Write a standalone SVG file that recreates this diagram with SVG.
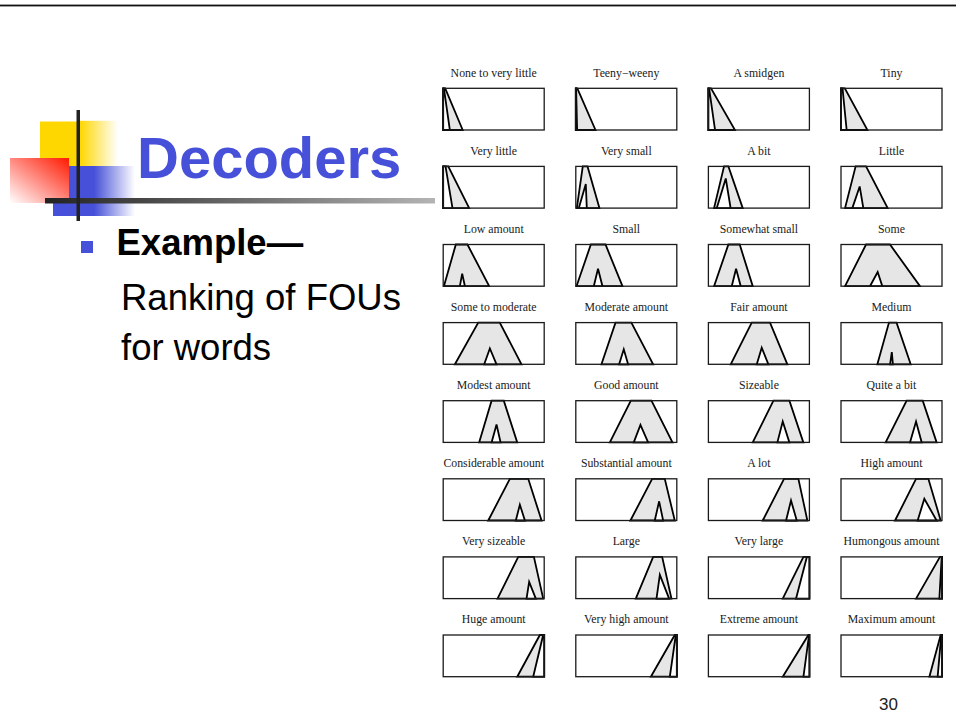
<svg xmlns="http://www.w3.org/2000/svg" width="956" height="725" viewBox="0 0 956 725">
  <style>
    .lbl { font-family: "Liberation Serif", "Times New Roman", serif; font-size: 11.8px; fill: #1a1a1a; text-anchor: middle; }
    .box { fill: none; stroke: #1a1a1a; stroke-width: 1.3; }
    .umf { fill: #e6e6e6; stroke: #000; stroke-width: 1.8; vector-effect: non-scaling-stroke; stroke-linejoin: miter; }
    .lmf { fill: #fff; stroke: #000; stroke-width: 1.8; vector-effect: non-scaling-stroke; stroke-linejoin: miter; }
    .body { font-family: "Liberation Sans", Arial, sans-serif; font-size: 36.5px; fill: #000; }
  </style>
  <defs>
    <linearGradient id="gYellow" x1="0" y1="0" x2="1" y2="0">
      <stop offset="0" stop-color="#FFD700"/>
      <stop offset="1" stop-color="#FFD700" stop-opacity="0"/>
    </linearGradient>
    <linearGradient id="gBlue" x1="0" y1="0" x2="1" y2="0">
      <stop offset="0" stop-color="#4650D8"/>
      <stop offset="0.5" stop-color="#4650D8"/>
      <stop offset="1" stop-color="#4650D8" stop-opacity="0"/>
    </linearGradient>
    <linearGradient id="gRed" x1="1" y1="0" x2="0" y2="1">
      <stop offset="0" stop-color="#FF1A00"/>
      <stop offset="0.5" stop-color="#FF8A80"/>
      <stop offset="1" stop-color="#FFFFFF"/>
    </linearGradient>
    <linearGradient id="gRule" x1="0" y1="0" x2="1" y2="0">
      <stop offset="0" stop-color="#222"/>
      <stop offset="1" stop-color="#b4b4b4"/>
    </linearGradient>
  </defs>

  <rect width="956" height="725" fill="#fff"/>

  <!-- slide header rule -->
  <rect x="0" y="4.6" width="956" height="1.8" fill="#111"/>

  <!-- title ornament -->
  <g id="ornament">
    <rect x="40" y="121.5" width="40" height="44.5" fill="#FFD700"/>
    <rect x="80" y="120.8" width="38" height="45.2" fill="url(#gYellow)"/>
    <rect x="53" y="166" width="82" height="50" fill="url(#gBlue)"/>
    <rect x="10" y="158" width="59" height="45" fill="url(#gRed)"/>
    <rect x="45" y="198" width="390" height="5.5" fill="url(#gRule)"/>
    <rect x="76.5" y="110" width="3.5" height="111" fill="#222"/>
  </g>

  <text id="title" x="137" y="178" font-family="'Liberation Sans', Arial, sans-serif" font-weight="bold" font-size="58" fill="#4650D8">Decoders</text>

  <g id="bullet">
    <rect x="81" y="241" width="12" height="12" fill="#4650D8"/>
    <text class="body" x="116.5" y="254.5" font-weight="bold">Example—</text>
    <text class="body" x="121" y="309.5">Ranking of FOUs</text>
    <text class="body" x="121" y="360">for words</text>
  </g>

  <text id="page" x="879" y="710" font-family="'Liberation Sans', Arial, sans-serif" font-size="17" fill="#222">30</text>

  <!-- FOU codebook: each cell is 101 x 41.7; inner group maps x in [0,10], membership in [0,1] -->
  <g id="row1">
    <g id="w01" transform="translate(443.2,88.3)">
      <text class="lbl" x="50.5" y="-11.6">None to very little</text>
      <g transform="matrix(10.1 0 0 -41.7 0 41.7)">
        <polygon class="umf" points="0,0 0,1 0.2,1 1.93,0"/>
        <polygon class="lmf" points="0,0 0,1 0.07,1 0.66,0"/>
      </g>
      <rect class="box" width="101" height="41.7"/>
    </g>
    <g id="w02" transform="translate(575.8,88.3)">
      <text class="lbl" x="50.5" y="-11.6">Teeny−weeny</text>
      <g transform="matrix(10.1 0 0 -41.7 0 41.7)">
        <polygon class="umf" points="0,0 0,1 0.15,1 1.95,0"/>
        <polygon class="lmf" points="0,0 0,1 0.03,1 0.13,0"/>
      </g>
      <rect class="box" width="101" height="41.7"/>
    </g>
    <g id="w03" transform="translate(708.4,88.3)">
      <text class="lbl" x="50.5" y="-11.6">A smidgen</text>
      <g transform="matrix(10.1 0 0 -41.7 0 41.7)">
        <polygon class="umf" points="0,0 0,1 0.26,1 2.63,0"/>
        <polygon class="lmf" points="0,0 0,1 0.07,1 0.66,0"/>
      </g>
      <rect class="box" width="101" height="41.7"/>
    </g>
    <g id="w04" transform="translate(841,88.3)">
      <text class="lbl" x="50.5" y="-11.6">Tiny</text>
      <g transform="matrix(10.1 0 0 -41.7 0 41.7)">
        <polygon class="umf" points="0,0 0,1 0.38,1 2.62,0"/>
        <polygon class="lmf" points="0,0 0,1 0.15,1 0.56,0"/>
      </g>
      <rect class="box" width="101" height="41.7"/>
    </g>
  </g>

  <g id="row2">
    <g id="w05" transform="translate(443.2,166.4)">
      <text class="lbl" x="50.5" y="-11.6">Very little</text>
      <g transform="matrix(10.1 0 0 -41.7 0 41.7)">
        <polygon class="umf" points="0,0 0,1 0.5,1 2.57,0"/>
        <polygon class="lmf" points="0,0 0,1 0.23,1 0.92,0"/>
      </g>
      <rect class="box" width="101" height="41.7"/>
    </g>
    <g id="w06" transform="translate(575.8,166.4)">
      <text class="lbl" x="50.5" y="-11.6">Very small</text>
      <g transform="matrix(10.1 0 0 -41.7 0 41.7)">
        <polygon class="umf" points="0.1,0 0.69,1 1.16,1 2.34,0"/>
        <polygon class="lmf" points="0.3,0 0.99,0.58 1.09,0"/>
      </g>
      <rect class="box" width="101" height="41.7"/>
    </g>
    <g id="w07" transform="translate(708.4,166.4)">
      <text class="lbl" x="50.5" y="-11.6">A bit</text>
      <g transform="matrix(10.1 0 0 -41.7 0 41.7)">
        <polygon class="umf" points="0.56,0 1.55,1 1.98,1 3.4,0"/>
        <polygon class="lmf" points="0.83,0 1.72,0.71 2.2,0"/>
      </g>
      <rect class="box" width="101" height="41.7"/>
    </g>
    <g id="w08" transform="translate(841,166.4)">
      <text class="lbl" x="50.5" y="-11.6">Little</text>
      <g transform="matrix(10.1 0 0 -41.7 0 41.7)">
        <polygon class="umf" points="0.4,0 1.45,1 2.48,1 4.62,0"/>
        <polygon class="lmf" points="1.12,0 1.85,0.52 2.21,0"/>
      </g>
      <rect class="box" width="101" height="41.7"/>
    </g>
  </g>

  <g id="row3">
    <g id="w09" transform="translate(443.2,244.5)">
      <text class="lbl" x="50.5" y="-11.6">Low amount</text>
      <g transform="matrix(10.1 0 0 -41.7 0 41.7)">
        <polygon class="umf" points="0.07,0 1.25,1 2.4,1 4.55,0"/>
        <polygon class="lmf" points="1.65,0 1.88,0.3 2.15,0"/>
      </g>
      <rect class="box" width="101" height="41.7"/>
    </g>
    <g id="w10" transform="translate(575.8,244.5)">
      <text class="lbl" x="50.5" y="-11.6">Small</text>
      <g transform="matrix(10.1 0 0 -41.7 0 41.7)">
        <polygon class="umf" points="0.07,0 1.49,1 2.94,1 4.62,0"/>
        <polygon class="lmf" points="1.78,0 2.2,0.42 2.64,0"/>
      </g>
      <rect class="box" width="101" height="41.7"/>
    </g>
    <g id="w11" transform="translate(708.4,244.5)">
      <text class="lbl" x="50.5" y="-11.6">Somewhat small</text>
      <g transform="matrix(10.1 0 0 -41.7 0 41.7)">
        <polygon class="umf" points="0.56,0 1.98,1 3.1,1 4.39,0"/>
        <polygon class="lmf" points="2.31,0 2.74,0.42 3.2,0"/>
      </g>
      <rect class="box" width="101" height="41.7"/>
    </g>
    <g id="w12" transform="translate(841,244.5)">
      <text class="lbl" x="50.5" y="-11.6">Some</text>
      <g transform="matrix(10.1 0 0 -41.7 0 41.7)">
        <polygon class="umf" points="0.4,0 2.48,1 4.85,1 7.82,0"/>
        <polygon class="lmf" points="2.87,0 3.63,0.34 4.09,0"/>
      </g>
      <rect class="box" width="101" height="41.7"/>
    </g>
  </g>

  <g id="row4">
    <g id="w13" transform="translate(443.2,322.6)">
      <text class="lbl" x="50.5" y="-11.6">Some to moderate</text>
      <g transform="matrix(10.1 0 0 -41.7 0 41.7)">
        <polygon class="umf" points="1.16,0 3.47,1 5.6,1 7.75,0"/>
        <polygon class="lmf" points="4.06,0 4.62,0.38 5.28,0"/>
      </g>
      <rect class="box" width="101" height="41.7"/>
    </g>
    <g id="w14" transform="translate(575.8,322.6)">
      <text class="lbl" x="50.5" y="-11.6">Moderate amount</text>
      <g transform="matrix(10.1 0 0 -41.7 0 41.7)">
        <polygon class="umf" points="2.54,0 3.93,1 5.5,1 7.66,0"/>
        <polygon class="lmf" points="4.29,0 4.75,0.36 5.18,0"/>
      </g>
      <rect class="box" width="101" height="41.7"/>
    </g>
    <g id="w15" transform="translate(708.4,322.6)">
      <text class="lbl" x="50.5" y="-11.6">Fair amount</text>
      <g transform="matrix(10.1 0 0 -41.7 0 41.7)">
        <polygon class="umf" points="2.21,0 4.29,1 6.1,1 7.82,0"/>
        <polygon class="lmf" points="4.79,0 5.28,0.4 5.94,0"/>
      </g>
      <rect class="box" width="101" height="41.7"/>
    </g>
    <g id="w16" transform="translate(841,322.6)">
      <text class="lbl" x="50.5" y="-11.6">Medium</text>
      <g transform="matrix(10.1 0 0 -41.7 0 41.7)">
        <polygon class="umf" points="3.6,0 4.75,1 5.5,1 6.9,0"/>
        <polygon class="lmf" points="4.86,0 5.03,0.29 5.14,0"/>
      </g>
      <rect class="box" width="101" height="41.7"/>
    </g>
  </g>

  <g id="row5">
    <g id="w17" transform="translate(443.2,400.7)">
      <text class="lbl" x="50.5" y="-11.6">Modest amount</text>
      <g transform="matrix(10.1 0 0 -41.7 0 41.7)">
        <polygon class="umf" points="3.56,0 4.79,1 6,1 7.33,0"/>
        <polygon class="lmf" points="4.79,0 5.28,0.43 5.68,0"/>
      </g>
      <rect class="box" width="101" height="41.7"/>
    </g>
    <g id="w18" transform="translate(575.8,400.7)">
      <text class="lbl" x="50.5" y="-11.6">Good amount</text>
      <g transform="matrix(10.1 0 0 -41.7 0 41.7)">
        <polygon class="umf" points="3.37,0 5.45,1 7.49,1 9.57,0"/>
        <polygon class="lmf" points="5.74,0 6.4,0.42 7.16,0"/>
      </g>
      <rect class="box" width="101" height="41.7"/>
    </g>
    <g id="w19" transform="translate(708.4,400.7)">
      <text class="lbl" x="50.5" y="-11.6">Sizeable</text>
      <g transform="matrix(10.1 0 0 -41.7 0 41.7)">
        <polygon class="umf" points="4.39,0 6.44,1 8.02,1 9.4,0"/>
        <polygon class="lmf" points="6.83,0 7.36,0.5 8.02,0"/>
      </g>
      <rect class="box" width="101" height="41.7"/>
    </g>
    <g id="w20" transform="translate(841,400.7)">
      <text class="lbl" x="50.5" y="-11.6">Quite a bit</text>
      <g transform="matrix(10.1 0 0 -41.7 0 41.7)">
        <polygon class="umf" points="4.42,0 6.5,1 8.09,1 9.47,0"/>
        <polygon class="lmf" points="6.83,0 7.43,0.5 7.99,0"/>
      </g>
      <rect class="box" width="101" height="41.7"/>
    </g>
  </g>

  <g id="row6">
    <g id="w21" transform="translate(443.2,478.8)">
      <text class="lbl" x="50.5" y="-11.6">Considerable amount</text>
      <g transform="matrix(10.1 0 0 -41.7 0 41.7)">
        <polygon class="umf" points="4.46,0 6.6,1 8.42,1 9.74,0"/>
        <polygon class="lmf" points="7.19,0 7.59,0.38 8.09,0"/>
      </g>
      <rect class="box" width="101" height="41.7"/>
    </g>
    <g id="w22" transform="translate(575.8,478.8)">
      <text class="lbl" x="50.5" y="-11.6">Substantial amount</text>
      <g transform="matrix(10.1 0 0 -41.7 0 41.7)">
        <polygon class="umf" points="5.41,0 7.56,1 8.81,1 9.8,0"/>
        <polygon class="lmf" points="7.82,0 8.25,0.46 8.65,0"/>
      </g>
      <rect class="box" width="101" height="41.7"/>
    </g>
    <g id="w23" transform="translate(708.4,478.8)">
      <text class="lbl" x="50.5" y="-11.6">A lot</text>
      <g transform="matrix(10.1 0 0 -41.7 0 41.7)">
        <polygon class="umf" points="5.38,0 7.49,1 8.91,1 9.8,0"/>
        <polygon class="lmf" points="7.69,0 8.18,0.48 8.75,0"/>
      </g>
      <rect class="box" width="101" height="41.7"/>
    </g>
    <g id="w24" transform="translate(841,478.8)">
      <text class="lbl" x="50.5" y="-11.6">High amount</text>
      <g transform="matrix(10.1 0 0 -41.7 0 41.7)">
        <polygon class="umf" points="5.35,0 7.43,1 8.65,1 9.87,0"/>
        <polygon class="lmf" points="7.59,0 8.25,0.52 9.47,0"/>
      </g>
      <rect class="box" width="101" height="41.7"/>
    </g>
  </g>

  <g id="row7">
    <g id="w25" transform="translate(443.2,556.9)">
      <text class="lbl" x="50.5" y="-11.6">Very sizeable</text>
      <g transform="matrix(10.1 0 0 -41.7 0 41.7)">
        <polygon class="umf" points="5.38,0 7.43,1 8.98,1 9.9,0"/>
        <polygon class="lmf" points="8.25,0 8.51,0.4 9.17,0"/>
      </g>
      <rect class="box" width="101" height="41.7"/>
    </g>
    <g id="w26" transform="translate(575.8,556.9)">
      <text class="lbl" x="50.5" y="-11.6">Large</text>
      <g transform="matrix(10.1 0 0 -41.7 0 41.7)">
        <polygon class="umf" points="5.94,0 7.66,1 8.55,1 9.47,0"/>
        <polygon class="lmf" points="7.99,0 8.32,0.57 9.24,0"/>
      </g>
      <rect class="box" width="101" height="41.7"/>
    </g>
    <g id="w27" transform="translate(708.4,556.9)">
      <text class="lbl" x="50.5" y="-11.6">Very large</text>
      <g transform="matrix(10.1 0 0 -41.7 0 41.7)">
        <polygon class="umf" points="7.36,0 9.41,1 10,1 10,0"/>
        <polygon class="lmf" points="8.68,0 9.75,1 10,1 10,0"/>
      </g>
      <rect class="box" width="101" height="41.7"/>
    </g>
    <g id="w28" transform="translate(841,556.9)">
      <text class="lbl" x="50.5" y="-11.6">Humongous amount</text>
      <g transform="matrix(10.1 0 0 -41.7 0 41.7)">
        <polygon class="umf" points="7.43,0 9.8,1 10,1 10,0"/>
        <polygon class="lmf" points="9.74,0 9.97,1 10,1 10,0"/>
      </g>
      <rect class="box" width="101" height="41.7"/>
    </g>
  </g>

  <g id="row8">
    <g id="w29" transform="translate(443.2,635)">
      <text class="lbl" x="50.5" y="-11.6">Huge amount</text>
      <g transform="matrix(10.1 0 0 -41.7 0 41.7)">
        <polygon class="umf" points="7.33,0 9.57,1 10,1 10,0"/>
        <polygon class="lmf" points="8.91,0 9.9,1 10,1 10,0"/>
      </g>
      <rect class="box" width="101" height="41.7"/>
    </g>
    <g id="w30" transform="translate(575.8,635)">
      <text class="lbl" x="50.5" y="-11.6">Very high amount</text>
      <g transform="matrix(10.1 0 0 -41.7 0 41.7)">
        <polygon class="umf" points="7.43,0 9.8,1 10,1 10,0"/>
        <polygon class="lmf" points="9.31,0 9.9,1 10,1 10,0"/>
      </g>
      <rect class="box" width="101" height="41.7"/>
    </g>
    <g id="w31" transform="translate(708.4,635)">
      <text class="lbl" x="50.5" y="-11.6">Extreme amount</text>
      <g transform="matrix(10.1 0 0 -41.7 0 41.7)">
        <polygon class="umf" points="7.36,0 9.9,1 10,1 10,0"/>
        <polygon class="lmf" points="9.41,0 9.97,1 10,1 10,0"/>
      </g>
      <rect class="box" width="101" height="41.7"/>
    </g>
    <g id="w32" transform="translate(841,635)">
      <text class="lbl" x="50.5" y="-11.6">Maximum amount</text>
      <g transform="matrix(10.1 0 0 -41.7 0 41.7)">
        <polygon class="umf" points="8.75,0 9.87,1 10,1 10,0"/>
        <polygon class="lmf" points="9.57,0 9.93,1 10,1 10,0"/>
      </g>
      <rect class="box" width="101" height="41.7"/>
    </g>
  </g>
</svg>
